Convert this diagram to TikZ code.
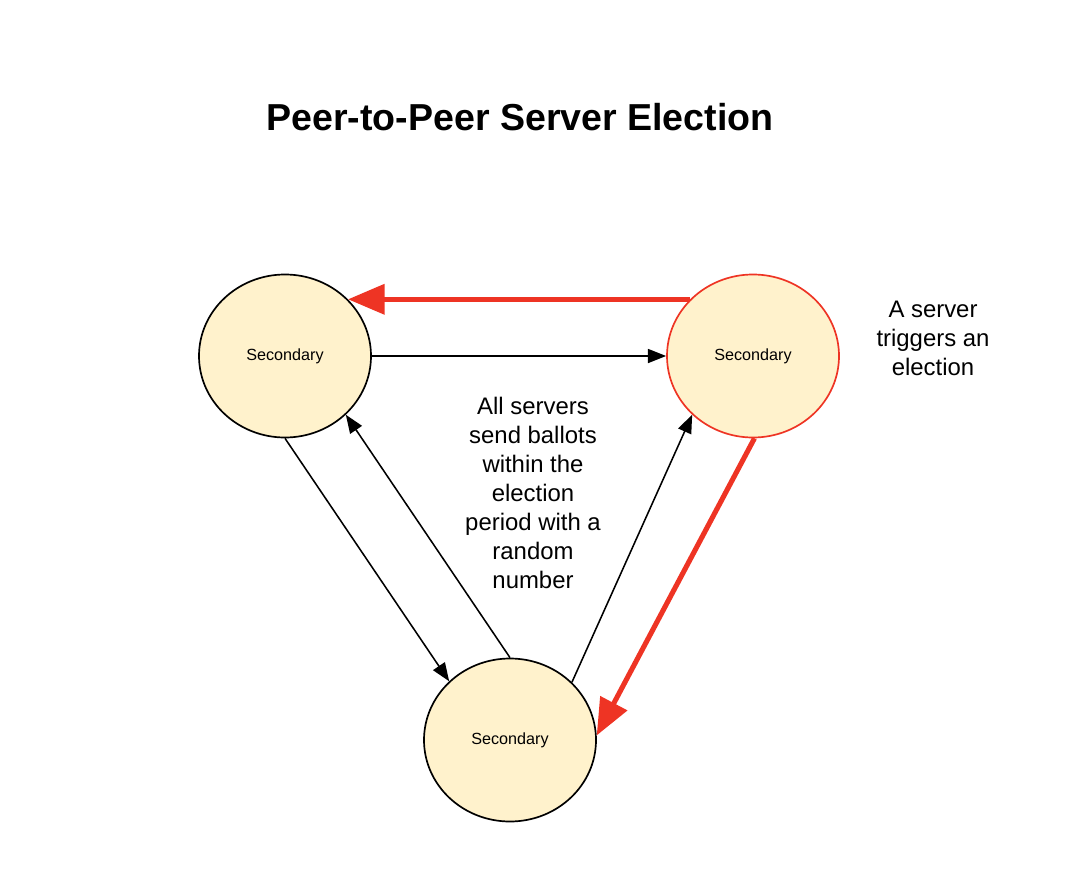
\documentclass[tikz,border=0pt]{standalone}
\usepackage{fontspec}
\setmainfont{Liberation Sans}
\usetikzlibrary{arrows.meta,shapes.geometric}
\definecolor{ballot}{RGB}{255,242,204}
\definecolor{alarm}{RGB}{238,52,36}
\begin{document}
\begin{tikzpicture}[x=0.025cm,y=-0.025cm]
\tikzstyle{every node}=[inner sep=0pt]
\tikzstyle{server}=[ellipse,draw=black,line width=1.2pt,fill=ballot,minimum width=172*0.025cm,minimum height=163*0.025cm,font=\fontsize{11.5}{13}\selectfont]
\tikzstyle{vote}=[line width=1.1pt,-{Triangle[length=13pt,width=10pt]}]
\tikzstyle{trigger}=[alarm,line width=3.6pt,-{Triangle[length=26pt,width=21pt]}]
\tikzstyle{note}=[align=center,font=\fontsize{17}{20.6}\selectfont]
\useasboundingbox (0,0) rectangle (1084,886);
\draw (520,117) node (title) [font=\fontsize{26.7}{30}\selectfont\bfseries] {Peer-to-Peer Server Election};
\draw (285,356) node (s1) [server] {Secondary};
\draw (753,356) node (s2) [server,draw=alarm] {Secondary};
\draw (510,740) node (s3) [server] {Secondary};
\draw (933,338) node (n1) [note] {A server\\triggers an\\election};
\draw (533,493) node (n2) [note] {All servers\\send ballots\\within the\\election\\period with a\\random\\number};
\draw [vote] (s1.0) -- (s2.180);
\draw [vote] (s1.270) -- (s3.136);
\draw [vote] (s3.90) -- (s1.316);
\draw [vote] (s3.43) -- (s2.224);
\draw [trigger] (s2.138) -- (s1.42);
\draw [trigger] (s2.271) -- (s3.3);
\end{tikzpicture}
\end{document}
